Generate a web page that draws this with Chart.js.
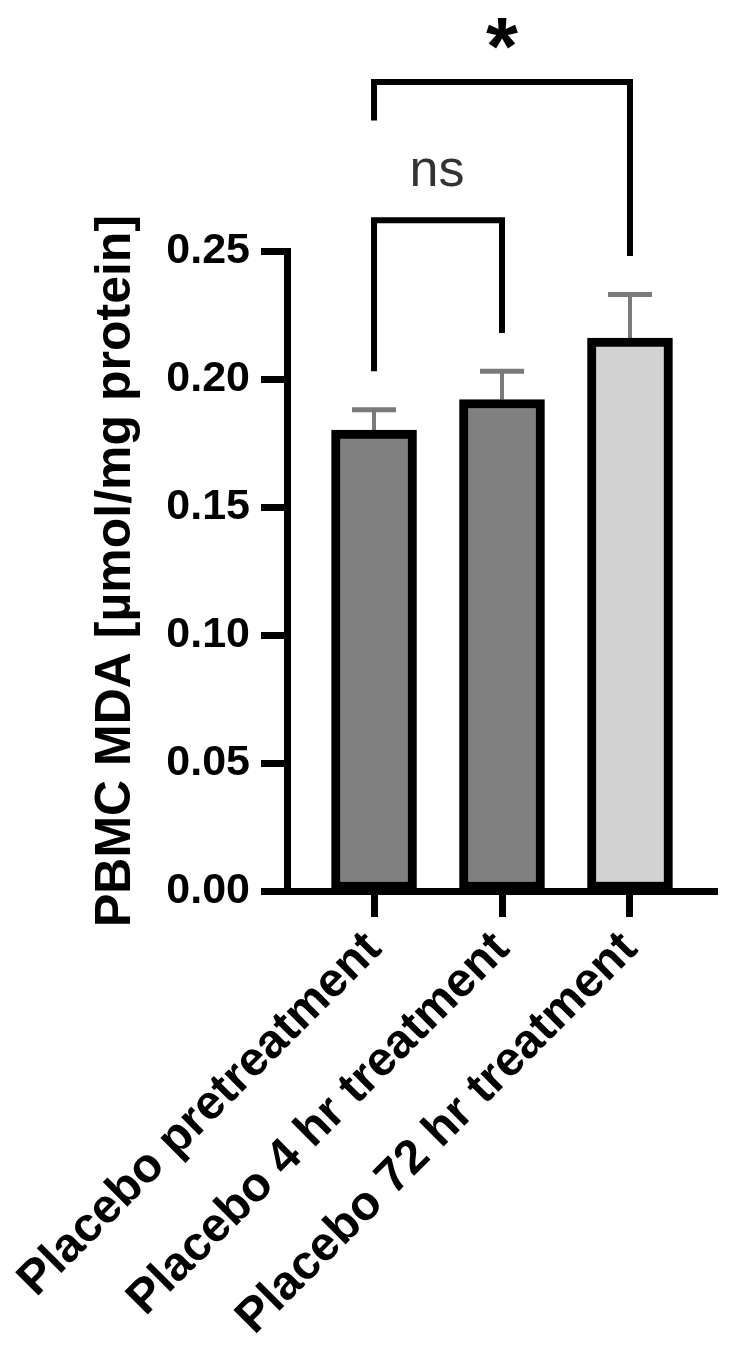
<!DOCTYPE html>
<html lang="en">
<head>
<meta charset="UTF-8">
<meta name="viewport" content="width=device-width, initial-scale=1.0">
<title>PBMC MDA</title>
<style>
  html, body { margin: 0; padding: 0; background: #fff; }
  #wrap { width: 736px; height: 1365px; position: relative; }
</style>
</head>
<body>
<div id="wrap"><canvas id="mdaChart"></canvas></div>

<script src="https://cdn.jsdelivr.net/npm/chart.js"></script>
<script>
// group means and the upper end of each error bar
const groups = ['Placebo pretreatment', 'Placebo 4 hr treatment', 'Placebo 72 hr treatment'];
const mdaMean = [0.180, 0.192, 0.216];
const mdaErrTop = [0.188, 0.203, 0.233];
const barColors = ['#808080', '#808080', '#d3d3d3'];
const yTicks = [0, 0.05, 0.10, 0.15, 0.20, 0.25];

// significance brackets: group indexes, label, heights in y units
const compFrom = [0, 0];
const compTo = [1, 2];
const compLabel = ['ns', '*'];
const compTop = [0.262, 0.316];
const compLegLeft = [0.203, 0.301];
const compLegRight = [0.218, 0.248];

const FONT = "'Liberation Sans', Arial, sans-serif";
const X_AXIS_SPACE = 474;   // room below the plot for ticks + rotated labels
const Y_AXIS_SPACE = 267;   // room left of the plot for ticks, labels, title

const errorBars = {
  id: 'errorBars',
  beforeDatasetsDraw(chart) {
    const { ctx, scales: { x, y } } = chart;
    ctx.save();
    ctx.strokeStyle = '#7a7a7a';
    mdaMean.forEach((m, i) => {
      const px = x.getPixelForValue(i);
      const y0 = y.getPixelForValue(m);
      const y1 = y.getPixelForValue(mdaErrTop[i]);
      ctx.lineWidth = 4;
      ctx.beginPath();
      ctx.moveTo(px, y0);
      ctx.lineTo(px, y1);
      ctx.stroke();
      ctx.lineWidth = 5;
      ctx.beginPath();
      ctx.moveTo(px - 22, y1);
      ctx.lineTo(px + 22, y1);
      ctx.stroke();
    });
    ctx.restore();
  }
};

const brackets = {
  id: 'brackets',
  afterDraw(chart) {
    const { ctx, scales: { x, y } } = chart;
    ctx.save();
    compLabel.forEach((label, k) => {
      const xa = x.getPixelForValue(compFrom[k]);
      const xb = x.getPixelForValue(compTo[k]);
      const yt = y.getPixelForValue(compTop[k]);
      ctx.strokeStyle = '#000';
      ctx.lineWidth = 6;
      ctx.lineJoin = 'miter';
      ctx.beginPath();
      ctx.moveTo(xa, y.getPixelForValue(compLegLeft[k]));
      ctx.lineTo(xa, yt);
      ctx.lineTo(xb, yt);
      ctx.lineTo(xb, y.getPixelForValue(compLegRight[k]));
      ctx.stroke();

      // label sits ~33px above the bracket
      if (label === '*') {
        ctx.font = 'bold 100px ' + FONT;
        const w = ctx.measureText('*');
        const size = 100 * 32 / (w.actualBoundingBoxLeft + w.actualBoundingBoxRight);
        ctx.font = 'bold ' + size.toFixed(1) + 'px ' + FONT;
        ctx.fillStyle = '#000';
      } else {
        ctx.font = '52px ' + FONT;
        ctx.fillStyle = '#333';
      }
      const m = ctx.measureText(label);
      ctx.textAlign = 'left';
      ctx.textBaseline = 'alphabetic';
      const inkW = m.actualBoundingBoxLeft + m.actualBoundingBoxRight;
      const cx = (xa + xb) / 2;
      ctx.fillText(label, cx - inkW / 2 + m.actualBoundingBoxLeft, yt - 33 - m.actualBoundingBoxDescent);
    });
    ctx.restore();
  }
};

const axisBorder = { display: true, width: 7, color: '#000' };

new Chart(document.getElementById('mdaChart'), {
  type: 'bar',
  data: {
    datasets: [{
      data: mdaMean.map((v, i) => ({ x: i, y: v })),
      backgroundColor: barColors,
      borderColor: '#000',
      borderWidth: 9,
      borderSkipped: false,
      barThickness: 85
    }]
  },
  options: {
    responsive: true,
    maintainAspectRatio: false,
    animation: false,
    layout: { padding: { left: 20, top: 251, right: 19, bottom: 0 } },
    plugins: { legend: { display: false }, tooltip: { enabled: false } },
    scales: {
      x: {
        type: 'linear',
        min: -0.68,
        max: 2.68,
        offset: false,
        afterBuildTicks: s => { s.ticks = groups.map((g, i) => ({ value: i })); },
        afterFit: s => { s.paddingLeft = 0; s.paddingRight = 0; s.height = X_AXIS_SPACE; },
        ticks: {
          autoSkip: false,
          minRotation: 45,
          maxRotation: 45,
          padding: 4,
          color: '#000',
          font: { family: FONT, size: 48, weight: 'bold' },
          callback: v => groups[v]
        },
        grid: { offset: false, drawOnChartArea: false, drawTicks: true, tickLength: 26, tickWidth: 7, tickColor: '#000' },
        border: axisBorder
      },
      y: {
        min: 0,
        max: 0.25,
        afterBuildTicks: s => { s.ticks = yTicks.map(v => ({ value: v })); },
        afterFit: s => { s.width = Y_AXIS_SPACE; },
        ticks: {
          padding: 11,
          color: '#000',
          font: { family: FONT, size: 43, weight: 'bold' },
          callback: v => v.toFixed(2)
        },
        grid: { drawOnChartArea: false, drawTicks: true, tickLength: 26, tickWidth: 7, tickColor: '#000' },
        border: axisBorder,
        title: {
          display: true,
          text: 'PBMC MDA [µmol/mg protein]',
          color: '#000',
          font: { family: FONT, size: 50, weight: 'bold' },
          padding: { top: 66, bottom: 0 }
        }
      }
    }
  },
  plugins: [errorBars, brackets]
});
</script>
</body>
</html>
